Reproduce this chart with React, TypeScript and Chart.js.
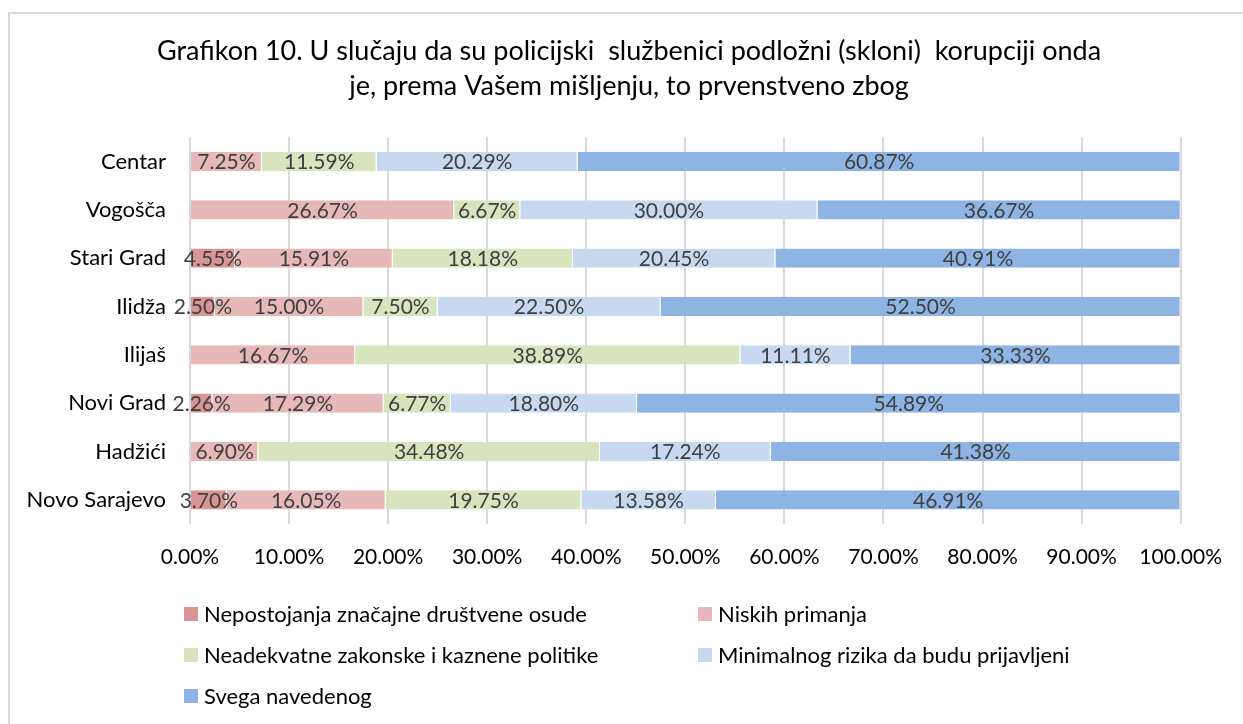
import React, { useEffect, useRef } from 'react';
import { Chart, registerables } from 'chart.js';

Chart.register(...registerables);

const titleLines = [
  'Grafikon 10. U slučaju da su policijski  službenici podložni (skloni)  korupciji onda',
  'je, prema Vašem mišljenju, to prvenstveno zbog',
];

const categories = ['Centar', 'Vogošča', 'Stari Grad', 'Ilidža', 'Ilijaš', 'Novi Grad', 'Hadžići', 'Novo Sarajevo'];

const seriesNames = [
  'Nepostojanja značajne društvene osude',
  'Niskih primanja',
  'Neadekvatne zakonske i kaznene politike',
  'Minimalnog rizika da budu prijavljeni',
  'Svega navedenog',
];

const nepostojanja = [0, 0, 4.55, 2.5, 0, 2.26, 0, 3.7];
const niskihPrimanja = [7.25, 26.67, 15.91, 15.0, 16.67, 17.29, 6.9, 16.05];
const neadekvatne = [11.59, 6.67, 18.18, 7.5, 38.89, 6.77, 34.48, 19.75];
const minimalnogRizika = [20.29, 30.0, 20.45, 22.5, 11.11, 18.8, 17.24, 13.58];
const svegaNavedenog = [60.87, 36.67, 40.91, 52.5, 33.33, 54.89, 41.38, 46.91];

const xTickValues = [0, 10, 20, 30, 40, 50, 60, 70, 80, 90, 100];

const colors = ['#D99594', '#E6B9B8', '#D7E4BD', '#C6D9F1', '#8EB4E3'];

const FONT = 'Lato, "Noto Sans", sans-serif';
const TEXT_SIZE = 22;
const NUM_SIZE = 21;

const framePlugin = {
  id: 'frame',
  beforeDraw(chart: any) {
    const ctx = chart.ctx;
    ctx.save();
    ctx.fillStyle = '#ffffff';
    ctx.fillRect(0, 0, chart.width, chart.height);
    ctx.strokeStyle = '#d9d9d9';
    ctx.lineWidth = 2;
    ctx.strokeRect(9, 13, 1400, 900);
    ctx.restore();
  },
  afterDraw(chart: any) {
    const ctx = chart.ctx;
    ctx.save();
    ctx.font = `27px ${FONT}`;
    ctx.fillStyle = '#000000';
    ctx.textAlign = 'center';
    ctx.textBaseline = 'middle';
    titleLines.forEach((line, i) => {
      ctx.fillText(line, 629, 51 + i * 35);
    });
    ctx.restore();
  },
};

const dataLabelPlugin = {
  id: 'dataLabels',
  afterDatasetsDraw(chart: any) {
    const ctx = chart.ctx;
    ctx.save();
    ctx.font = `${NUM_SIZE}px ${FONT}`;
    ctx.fillStyle = '#404040';
    ctx.textAlign = 'center';
    ctx.textBaseline = 'middle';
    chart.data.datasets.forEach((ds: any, i: number) => {
      const meta = chart.getDatasetMeta(i);
      meta.data.forEach((el: any, j: number) => {
        const v = ds.data[j];
        if (!v) return;
        const x = (el.x + el.base) / 2;
        ctx.fillText(v.toFixed(2) + '%', x, el.y + 1);
      });
    });
    ctx.restore();
  },
};

const legendPlugin = {
  id: 'gridLegend',
  afterDraw(chart: any) {
    const ctx = chart.ctx;
    ctx.save();
    ctx.font = `${TEXT_SIZE}px ${FONT}`;
    ctx.textBaseline = 'middle';
    ctx.textAlign = 'left';
    chart.data.datasets.forEach((ds: any, i: number) => {
      const col = i % 2;
      const row = Math.floor(i / 2);
      const bx = col === 0 ? 184 : 698;
      const by = 607 + row * 41;
      ctx.fillStyle = ds.backgroundColor;
      ctx.fillRect(bx, by, 14, 14);
      ctx.fillStyle = '#000000';
      ctx.fillText(ds.label, bx + 20, by + 8);
    });
    ctx.restore();
  },
};

export default function App() {
  const canvasRef = useRef<HTMLCanvasElement | null>(null);

  useEffect(() => {
    if (!canvasRef.current) return;
    const seriesValues = [nepostojanja, niskihPrimanja, neadekvatne, minimalnogRizika, svegaNavedenog];
    const chart = new Chart(canvasRef.current, {
      type: 'bar',
      data: {
        labels: categories,
        datasets: seriesNames.map((name, i) => ({
          label: name,
          data: seriesValues[i],
          backgroundColor: colors[i],
          borderColor: '#ffffff',
          borderWidth: { top: 0, bottom: 0, left: 0, right: 1 },
          borderSkipped: false,
          barPercentage: 0.8,
          categoryPercentage: 0.5,
        })),
      },
      options: {
        indexAxis: 'y',
        animation: false,
        responsive: true,
        maintainAspectRatio: false,
        layout: { padding: { left: 0, right: 61, top: 137.3, bottom: 150 } },
        plugins: {
          legend: { display: false },
          tooltip: { enabled: false },
          title: { display: false },
        },
        scales: {
          x: {
            stacked: true,
            min: 0,
            max: 100,
            afterBuildTicks: (scale: any) => {
              scale.ticks = xTickValues.map((v) => ({ value: v }));
            },
            afterFit: (scale: any) => {
              scale.height = 50;
            },
            grid: { color: '#d9d9d9', lineWidth: 2, drawTicks: false },
            border: { display: false },
            ticks: {
              padding: 21,
              color: '#000000',
              font: { family: FONT, size: NUM_SIZE },
              callback: (v: any) => Number(v).toFixed(2) + '%',
            },
          },
          y: {
            stacked: true,
            afterFit: (scale: any) => {
              scale.width = 190;
            },
            grid: { display: false, drawTicks: false },
            border: { display: false },
            ticks: {
              padding: 24,
              color: '#000000',
              font: { family: FONT, size: TEXT_SIZE },
            },
          },
        },
      },
      plugins: [framePlugin, dataLabelPlugin, legendPlugin],
    });
    return () => chart.destroy();
  }, []);

  return (
    <div style={{ position: 'fixed', left: 0, top: 0, width: 1243, height: 724, overflow: 'hidden', background: '#fff' }}>
      <canvas ref={canvasRef} />
    </div>
  );
}
